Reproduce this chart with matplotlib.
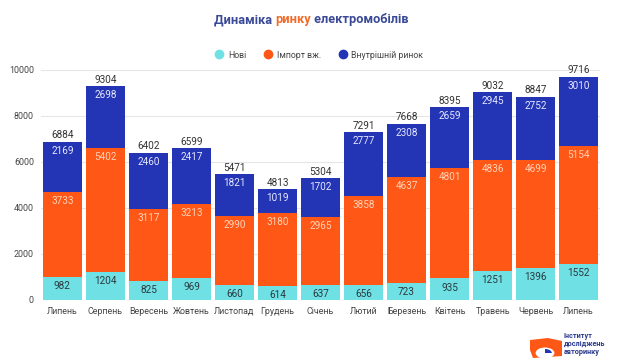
import matplotlib
matplotlib.use("Agg")
import matplotlib.pyplot as plt
import numpy as np
from matplotlib.patches import Polygon, Circle, Wedge
from matplotlib.lines import Line2D

plt.rcParams["font.family"] = ["Roboto", "DejaVu Sans"]

months = ["Липень", "Серпень", "Вересень", "Жовтень", "Листопад", "Грудень", "Січень",
          "Лютий", "Березень", "Квітень", "Травень", "Червень", "Липень"]
new_cars = [982, 1204, 825, 969, 660, 614, 637, 656, 723, 935, 1251, 1396, 1552]
imported = [3733, 5402, 3117, 3213, 2990, 3180, 2965, 3858, 4637, 4801, 4836, 4699, 5154]
domestic = [2169, 2698, 2460, 2417, 1821, 1019, 1702, 2777, 2308, 2659, 2945, 2752, 3010]
totals = [6884, 9304, 6402, 6599, 5471, 4813, 5304, 7291, 7668, 8395, 9032, 8847, 9716]
series_names = ["Нові", "Імпорт вж.", "Внутрішній ринок"]

C_NEW = "#6fe0e4"
C_IMP = "#ff5716"
C_DOM = "#2334b4"
C_TITLE = "#3b4a96"

fig = plt.figure(figsize=(6.2, 3.63), dpi=100)
ax = fig.add_axes([0.066, 0.1736, 0.902, 0.6336])

x = np.arange(len(months))
w = 0.9
new_a = np.array(new_cars)
imp_a = np.array(imported)
dom_a = np.array(domestic)

ax.bar(x, new_a, w, color=C_NEW, zorder=2)
ax.bar(x, imp_a, w, bottom=new_a, color=C_IMP, zorder=2)
ax.bar(x, dom_a, w, bottom=new_a + imp_a, color=C_DOM, zorder=2)

fs = 7.2
for i in range(len(x)):
    t1 = new_a[i]
    t2 = t1 + imp_a[i]
    t3 = t2 + dom_a[i]
    ax.annotate(str(new_a[i]), (x[i], t1), xytext=(0, -6.5), textcoords="offset points",
                ha="center", va="center", fontsize=fs, color="#2a3a40", zorder=3)
    ax.annotate(str(imp_a[i]), (x[i], t2), xytext=(0, -6.5), textcoords="offset points",
                ha="center", va="center", fontsize=fs, color="#ffd2b8", zorder=3)
    ax.annotate(str(dom_a[i]), (x[i], t3), xytext=(0, -6.5), textcoords="offset points",
                ha="center", va="center", fontsize=fs, color="#e6e9ff", zorder=3)
    ax.annotate(str(totals[i]), (x[i], t3), xytext=(0, 4.5), textcoords="offset points",
                ha="center", va="center", fontsize=fs, color="#333333", zorder=3)

ax.set_xlim(-0.5, len(x) - 0.5)
ax.set_ylim(0, 10000)
ax.set_yticks(range(0, 10001, 2000))
ax.set_xticks(x)
ax.set_xticklabels(months)
ax.tick_params(axis="both", length=0, labelsize=6.4, colors="#444444")
ax.tick_params(axis="x", pad=5)
ax.tick_params(axis="y", pad=5)
ax.grid(axis="y", color="#e6e6e6", lw=0.8, zorder=0)
for s in ax.spines.values():
    s.set_visible(False)

# title with coloured word
ty = 1 - 20 / 363
fig.text(214 / 620, ty, "Динаміка ", fontsize=9.2, fontweight="bold", color=C_TITLE,
         ha="left", va="center")
fig.canvas.draw()
bb = fig.texts[-1].get_window_extent()
fig.text(bb.x1 / fig.bbox.width, ty, "ринку", fontsize=9.2, fontweight="bold",
         color="#f26b2a", ha="left", va="center")
bb2 = fig.texts[-1].get_window_extent()
fig.text(bb2.x1 / fig.bbox.width, ty, " електромобілів", fontsize=9.2,
         fontweight="bold", color=C_TITLE, ha="left", va="center")

# legend
handles = [Line2D([0], [0], marker="o", ls="", markersize=6, markerfacecolor=c,
                  markeredgecolor=c, label=n)
           for c, n in zip([C_NEW, C_IMP, C_DOM], series_names)]
fig.legend(handles=handles, loc="center", bbox_to_anchor=(319 / 620, 1 - 55 / 363), ncol=3,
           frameon=False, fontsize=6.3, handletextpad=0.5, columnspacing=2.0,
           handlelength=1.0, labelcolor="#444444")

# logo
W, H = 620, 363
shape = [(530, 340), (548, 338), (562, 341), (562, 356), (533, 358), (530, 350)]
fig.patches.append(Polygon([(px / W, 1 - py / H) for px, py in shape], closed=True,
                           transform=fig.transFigure, facecolor="#ff5716", edgecolor="none"))
fig.patches.append(Circle((545 / W, 1 - 353 / H), 5.5 / H, transform=fig.transFigure,
                          facecolor="white", edgecolor="none"))
fig.patches.append(Wedge((545 / W, 1 - 353 / H), 4 / H, 0, 90, transform=fig.transFigure,
                         facecolor="#2334b4", edgecolor="none"))
for k, line in enumerate(["Інститут", "досліджень", "авторинку"]):
    fig.text(564 / W, 1 - (336 + k * 8) / H, line, fontsize=5.2, fontweight="bold",
             color="#2a3a8c", ha="left", va="center")

fig.savefig("out.png", dpi=100, facecolor="white")
